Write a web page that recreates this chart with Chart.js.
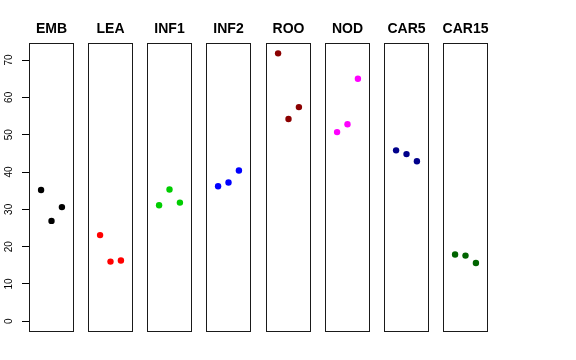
<!DOCTYPE html>
<html>
<head>
<meta charset="utf-8">
<script src="https://cdn.jsdelivr.net/npm/chart.js@4.4.1/dist/chart.umd.min.js"></script>
<style>
  html, body { margin: 0; padding: 0; background: #ffffff; }
  #wrap { position: relative; width: 576px; height: 360px; overflow: hidden; background: #fff; }
  #wrap canvas { position: absolute; top: 0; }
</style>
</head>
<body>
<div id="wrap"></div>
<script>
// ---- data ----
const categories = ['EMB', 'LEA', 'INF1', 'INF2', 'ROO', 'NOD', 'CAR5', 'CAR15'];
const xPositions = [1, 2, 3];
const valuesEMB   = [35.2, 26.9, 30.6];
const valuesLEA   = [23.1, 16.0, 16.3];
const valuesINF1  = [31.1, 35.3, 31.8];
const valuesINF2  = [36.2, 37.2, 40.4];
const valuesROO   = [71.8, 54.2, 57.4];
const valuesNOD   = [50.7, 52.8, 65.0];
const valuesCAR5  = [45.8, 44.8, 42.9];
const valuesCAR15 = [17.9, 17.6, 15.6];
const seriesValues = [valuesEMB, valuesLEA, valuesINF1, valuesINF2, valuesROO, valuesNOD, valuesCAR5, valuesCAR15];
const seriesColors = ['#000000', '#FF0000', '#00CD00', '#0000FF', '#8B0000', '#FF00FF', '#00008B', '#006400'];
const yTicks = [0, 10, 20, 30, 40, 50, 60, 70];

// ---- layout ----
const FONT = "'Liberation Sans', Arial, Helvetica, sans-serif";
const Y_MIN = -2.87, Y_MAX = 74.57;
const X_MIN = -0.16, X_MAX = 4.16;
const PANEL_W = 45, PITCH = 59.14, FIRST_LEFT = 29, SIDE = 7, AXIS_W = 29;

const boxPlugin = {
  id: 'panelBox',
  afterDatasetsDraw(chart) {
    const a = chart.chartArea;
    const ctx = chart.ctx;
    ctx.save();
    ctx.strokeStyle = '#1a1a1a';
    ctx.lineWidth = 1;
    ctx.strokeRect(Math.round(a.left) + 0.5, Math.round(a.top) + 0.5,
                   Math.round(a.right - a.left) - 1, Math.round(a.bottom - a.top) - 1);
    ctx.restore();
  }
};

function spacerAxis(position, width) {
  return {
    type: 'linear', position: position, display: true,
    min: Y_MIN, max: Y_MAX,
    afterFit: (s) => { s.width = width; },
    border: { display: false },
    grid: { display: false },
    ticks: { display: false }
  };
}

const wrap = document.getElementById('wrap');
categories.forEach((cat, i) => {
  const panelLeft = Math.round(FIRST_LEFT + i * PITCH);
  const first = i === 0;
  const sideW = first ? AXIS_W : SIDE;
  const canvasLeft = panelLeft - sideW;
  const canvasW = PANEL_W + 2 * sideW;
  const cv = document.createElement('canvas');
  cv.width = canvasW; cv.height = 360;
  cv.style.left = canvasLeft + 'px';
  cv.style.width = canvasW + 'px'; cv.style.height = '360px';
  wrap.appendChild(cv);

  const yAxis = first ? {
    type: 'linear', position: 'left', display: true,
    min: Y_MIN, max: Y_MAX,
    afterBuildTicks: (s) => { s.ticks = yTicks.map(v => ({ value: v })); },
    afterFit: (s) => { s.width = AXIS_W; },
    border: { display: false },
    grid: { drawOnChartArea: false, drawTicks: true, tickLength: 7, color: '#000000', lineWidth: 1 },
    ticks: {
      color: '#000000',
      font: { family: FONT, size: 10 },
      minRotation: 90, maxRotation: 90,
      crossAlign: 'center',
      padding: 7
    }
  } : spacerAxis('left', SIDE);

  new Chart(cv, {
    type: 'scatter',
    data: {
      datasets: [{
        data: xPositions.map((x, k) => ({ x: x, y: seriesValues[i][k] })),
        backgroundColor: seriesColors[i],
        borderWidth: 0,
        pointRadius: 3.2,
        pointHoverRadius: 3.2,
        yAxisID: 'y'
      }]
    },
    options: {
      responsive: false,
      animation: false,
      devicePixelRatio: 1,
      layout: { padding: { left: 0, right: 0, top: 0, bottom: 28 } },
      plugins: {
        legend: { display: false },
        tooltip: { enabled: false },
        title: {
          display: true,
          text: cat,
          color: '#000000',
          font: { family: FONT, size: 14, weight: 'bold', lineHeight: 1.2 },
          padding: { top: 20.6, bottom: 5.6 }
        }
      },
      scales: {
        x: { type: 'linear', display: false, min: X_MIN, max: X_MAX },
        y: yAxis,
        yR: spacerAxis('right', sideW)
      }
    },
    plugins: [boxPlugin]
  });
});
</script>
</body>
</html>
